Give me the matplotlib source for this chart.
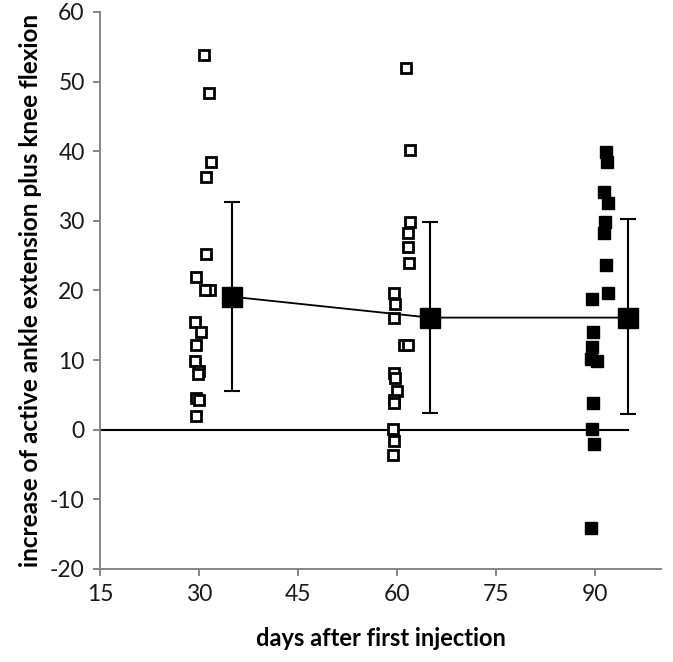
import matplotlib
matplotlib.use("Agg")
import matplotlib.pyplot as plt

plt.rcParams['font.family'] = ['Lato', 'DejaVu Sans']
plt.rcParams['axes.unicode_minus'] = False

# day-30 individual values (open squares)
d30_x = [30.7, 31.5, 31.8, 31.1, 31.1, 29.6, 31.6, 30.9, 29.4, 30.3, 29.6, 29.4, 30.0, 29.9, 29.6, 30.0, 29.5]
d30_y = [53.8, 48.3, 38.4, 36.3, 25.3, 21.9, 20.0, 20.0, 15.4, 14.0, 12.1, 9.9, 8.5, 8.0, 4.6, 4.3, 2.0]

# day-60 individual values (open squares)
d60_x = [61.4, 61.9, 61.9, 61.6, 61.6, 61.8, 59.5, 59.7, 59.5, 61.1, 61.7, 59.5, 59.7, 60.0, 59.5, 59.5, 59.4, 59.5, 59.4]
d60_y = [51.9, 40.1, 29.8, 28.2, 26.2, 23.9, 19.7, 18.1, 16.0, 12.1, 12.1, 8.1, 7.4, 5.6, 4.2, 3.8, 0.1, -1.6, -3.7]

# day-90 individual values (filled squares)
d90_x = [91.6, 91.8, 91.3, 92.0, 91.5, 91.3, 91.7, 92.0, 89.5, 89.7, 89.5, 89.4, 90.3, 89.7, 89.5, 89.8, 89.4]
d90_y = [39.9, 38.4, 34.1, 32.5, 29.8, 28.2, 23.6, 19.7, 18.8, 14.0, 11.9, 10.2, 9.9, 3.9, 0.1, -2.0, -14.1]

# means and SD bars
mean_x = [35, 65, 95]
mean_y = [19.1, 16.1, 16.1]
err_hi = [32.7, 29.8, 30.2]
err_lo = [5.5, 2.4, 2.2]

zero_x = [15, 95]
zero_y = [0, 0]

x_ticks = [15, 30, 45, 60, 75, 90]
y_ticks = [-20, -10, 0, 10, 20, 30, 40, 50, 60]

fig = plt.figure(figsize=(6.73, 6.62), dpi=100)
ax = fig.add_axes([0.1486, 0.1405, 0.8336, 0.8415])

ax.plot(zero_x, zero_y, color='black', lw=1.5, zorder=2)
ax.plot(d30_x, d30_y, ls='none', marker='s', ms=7.2, mfc='white', mec='black', mew=2.0, zorder=3)
ax.plot(d60_x, d60_y, ls='none', marker='s', ms=7.2, mfc='white', mec='black', mew=2.0, zorder=3)
ax.plot(d90_x, d90_y, ls='none', marker='s', ms=8.2, mfc='black', mec='black', mew=1.0, zorder=3)

yerr = [[m - l for m, l in zip(mean_y, err_lo)], [h - m for m, h in zip(mean_y, err_hi)]]
ax.errorbar(mean_x, mean_y, yerr=yerr, fmt='s', color='black', ms=14.5, lw=1.3,
            elinewidth=1.5, capsize=5.5, capthick=1.5, zorder=4, ls='-')

ax.set_xlim(15, 100)
ax.set_ylim(-20, 60)
ax.set_xticks(x_ticks)
ax.set_yticks(y_ticks)
ax.spines['top'].set_visible(False)
ax.spines['right'].set_visible(False)
for s in ('left', 'bottom'):
    ax.spines[s].set_color('#868686')
    ax.spines[s].set_linewidth(1.4)
ax.tick_params(axis='both', direction='out', length=5, width=1.4, color='#868686',
               labelsize=16.5, labelcolor='#1a1a1a', pad=6)

ax.set_xlabel('days after first injection', fontsize=17, fontweight='bold', labelpad=16)
ax.set_ylabel('increase of active ankle extension plus knee flexion', fontsize=17.5,
              fontweight='bold', labelpad=6)

fig.savefig('out.png', dpi=100)
